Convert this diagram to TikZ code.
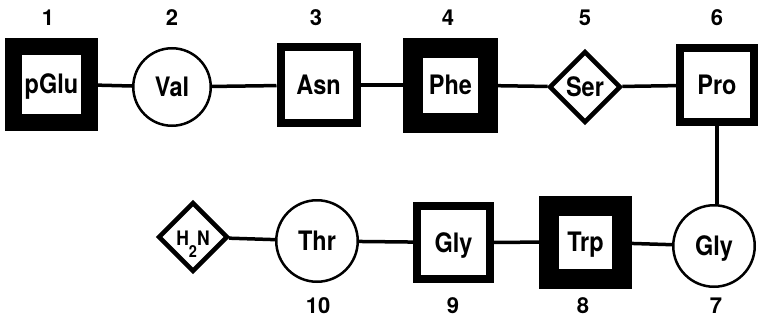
\documentclass[tikz,border=0pt]{standalone}
\usepackage{fontspec}
\usepackage{graphicx}
\setmainfont{TeX Gyre Heros}
\usetikzlibrary{shapes.geometric}
\newcommand\tallt[1]{\scalebox{1}[1.14]{#1}}
\tikzset{
  res/.style={font=\fontsize{23.5}{23.5}\selectfont\bfseries, text height=19pt, text depth=0pt,
              inner sep=0pt, fill=white, draw=black},
  sq/.style={res, rectangle},
  ring/.style={res, circle, line width=2.5pt},
  rhomb/.style={res, diamond, aspect=1, line width=4.5pt},
  num/.style={font=\fontsize{22}{22}\selectfont\bfseries, inner sep=0pt},
  bond/.style={line width=3.5pt}
}
\begin{document}
\begin{tikzpicture}[x=1pt,y=-1pt]
\useasboundingbox (0,0) rectangle (758,324);
% row 1
\node[sq, line width=17pt, minimum size=76pt] (pglu) at (51.5,84) {\tallt{pGlu}};
\node[ring, minimum size=77.5pt] (val) at (172,87) {\tallt{Val}};
\node[sq, line width=8pt, minimum size=76pt] (asn) at (318.5,85) {\tallt{Asn}};
\node[sq, line width=20pt, minimum size=75pt] (phe) at (450.5,85) {\tallt{Phe}};
\node[rhomb, minimum size=71.6pt] (ser) at (585,87) {\tallt{Ser}};
\node[sq, line width=8pt, minimum size=74pt] (pro) at (717,85) {\tallt{Pro}};
% row 2
\node[rhomb, minimum size=69.6pt, font=\fontsize{17.5}{17.5}\selectfont\bfseries, text height=16pt]
  (nh2) at (193,237) {\tallt{H\raisebox{-11pt}{\fontsize{14.5}{14.5}\selectfont 2}N}};
\node[ring, minimum size=81.5pt] (thr) at (317,241) {\tallt{Thr}};
\node[sq, line width=8pt, minimum size=73pt] (glyb) at (453.5,242.5) {\tallt{Gly}};
\node[sq, line width=20pt, minimum size=73pt] (trp) at (585.5,242) {\tallt{Trp}};
\node[ring, minimum size=81.5pt] (glya) at (714,246) {\tallt{Gly}};
% numbers
\node[num] (l1) at (48,17.5) {1};
\node[num] (l2) at (172,17.5) {2};
\node[num] (l3) at (316,17.5) {3};
\node[num] (l4) at (448,17.5) {4};
\node[num] (l5) at (585,17.5) {5};
\node[num] (l6) at (717,17.5) {6};
\node[num] (l10) at (318,306) {10};
\node[num] (l9) at (453,306) {9};
\node[num] (l8) at (583,306) {8};
\node[num] (l7) at (716,306) {7};
% bonds
\draw[bond] (pglu) -- (val);
\draw[bond] (val) -- (asn);
\draw[bond] (asn) -- (phe);
\draw[bond] (phe) -- (ser);
\draw[bond] (ser) -- (pro);
\draw[bond] (pro.south) -- (pro.south |- glya.north);
\draw[bond] (glya) -- (trp);
\draw[bond] (trp) -- (glyb);
\draw[bond] (glyb) -- (thr);
\draw[bond] (thr) -- (nh2);
\end{tikzpicture}
\end{document}
